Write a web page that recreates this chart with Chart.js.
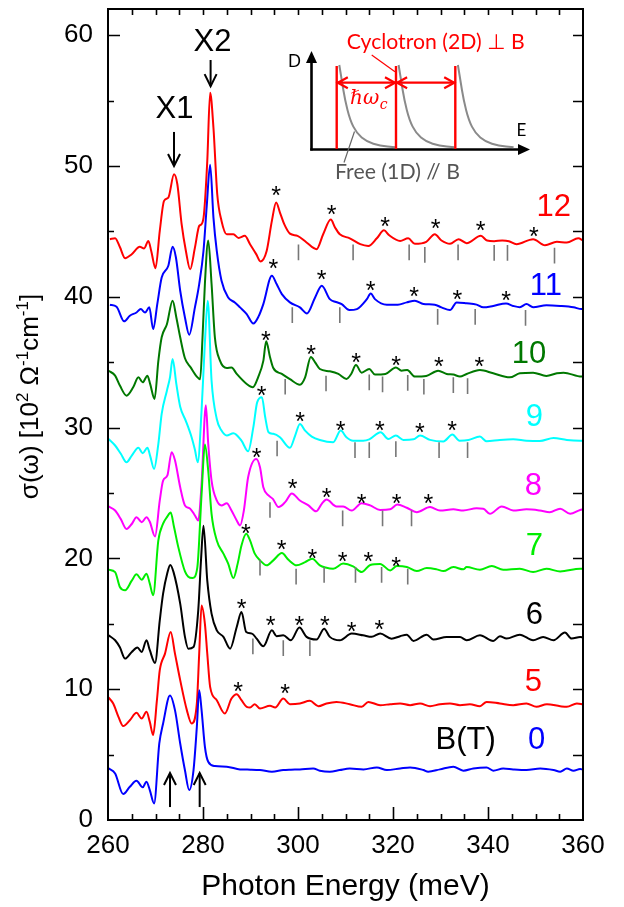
<!DOCTYPE html>
<html><head><meta charset="utf-8">
<script src="https://cdn.jsdelivr.net/npm/chart.js@4.4.1/dist/chart.umd.min.js"></script>
<style>html,body{margin:0;padding:0;background:#fff;}canvas{display:block;}</style>
</head><body>
<canvas id="c" width="624" height="907"></canvas>
<script>
// ---------- DATA ----------
const X_TICKS = [260, 280, 300, 320, 340, 360];
const Y_TICKS = [0, 10, 20, 30, 40, 50, 60];
const FIELDS = ['0', '5', '6', '7', '8', '9', '10', '11', '12'];

// spectra: [photon energy (meV), sigma (10^2 Ohm^-1 cm^-1)] (offset curves)
const B0 = [[260.1,3.95],[261.5,3.56],[263.2,1.98],[264.6,2.54],[266.0,3.0],[267.3,2.5],[268.1,2.93],[268.8,2.29],[269.7,1.27],[270.8,5.85],[271.6,7.38],[273.05,9.52],[274.1,8.4],[275.2,5.85],[276.2,3.8],[277.1,2.29],[278.0,3.8],[278.7,7.1],[279.2,9.92],[279.7,8.4],[280.4,5.6],[281.1,4.45],[282.5,4.12],[285.0,4.07],[287.8,3.87],[290.0,3.85],[292.0,3.82],[294.5,3.69],[296.9,3.82],[298.5,3.85],[300.4,3.87],[303.2,3.94],[304.6,3.77],[306.7,3.69],[308.8,3.82],[310.9,3.94],[313.8,3.87],[316.6,4.02],[318.7,3.82],[321.5,3.94],[323.6,4.02],[326.4,3.82],[327.4,3.69],[329.9,3.87],[332.7,4.07],[334.8,3.77],[336.9,3.94],[339.7,4.02],[341.1,3.77],[343.2,3.94],[345.3,3.87],[348.1,3.82],[351.0,3.94],[353.8,3.82],[355.2,3.69],[356.6,3.94],[358.0,3.77],[359.4,3.90],[360.0,3.85]];
const B5 = [[260.1,9.37],[261.1,8.9],[262.2,7.89],[263.2,7.18],[264.6,7.63],[266.0,8.19],[267.1,7.76],[268.1,8.27],[268.8,7.5],[269.5,6.49],[270.3,9.16],[270.9,11.45],[272.0,12.72],[273.2,14.37],[274.1,12.72],[275.2,10.69],[276.6,8.4],[277.6,7.38],[278.7,8.9],[279.2,12.72],[279.7,16.4],[280.4,15.0],[280.9,12.72],[281.5,10.18],[282.9,9.16],[284.6,8.14],[286.0,9.29],[287.1,9.62],[288.1,9.16],[289.2,8.65],[289.9,8.6],[290.9,8.85],[292.0,8.52],[294.1,8.73],[295.2,8.6],[296.9,9.29],[298.3,8.85],[300.4,8.91],[302.5,9.11],[304.3,8.70],[306.0,8.91],[308.1,9.03],[310.9,8.85],[313.4,8.65],[314.8,9.03],[317.3,8.78],[319.4,8.85],[321.5,8.91],[323.6,8.78],[325.7,8.91],[327.8,8.70],[329.9,8.85],[332.0,8.91],[334.1,8.78],[336.2,8.85],[338.3,8.70],[339.7,9.03],[342.5,8.91],[345.3,8.78],[348.1,8.91],[350.2,8.65],[352.4,8.85],[355.2,8.70],[356.6,8.65],[358.7,8.91],[360.0,8.85]];
const B6 = [[260.1,14.12],[261.5,13.74],[262.5,13.2],[263.6,12.34],[265.0,12.85],[266.2,13.18],[267.1,12.85],[268.1,13.74],[268.8,12.98],[269.9,12.01],[270.9,15.27],[271.6,17.3],[272.5,18.9],[273.1,19.5],[273.8,18.95],[275.2,16.54],[276.2,14.0],[276.9,13.1],[278.0,13.23],[279.0,16.03],[279.6,20.0],[280.1,22.5],[280.9,18.3],[281.8,15.78],[282.9,14.5],[284.3,14.0],[285.7,13.1],[287.1,14.76],[288.1,15.9],[289.1,14.37],[290.3,14.25],[291.3,13.86],[292.7,13.28],[294.5,14.5],[295.5,14.05],[296.9,14.12],[298.5,13.74],[300.3,14.71],[301.8,14.0],[303.9,13.8],[305.5,14.63],[306.7,14.0],[308.8,13.74],[311.3,14.25],[313.7,14.12],[315.5,14.0],[317.3,14.25],[319.7,13.86],[321.5,14.05],[322.9,14.17],[324.3,13.69],[327.1,14.17],[328.5,13.8],[331.3,13.99],[334.1,13.99],[335.5,13.74],[338.3,14.12],[341.1,13.69],[342.5,14.04],[343.9,13.87],[346.7,14.17],[349.5,13.74],[351.6,13.99],[353.8,13.74],[356.2,14.33],[357.6,13.87],[359.4,13.99],[360.0,13.95]];
const B7 = [[260.1,19.14],[261.5,18.95],[262.5,17.81],[263.6,17.56],[265.0,18.3],[266.0,18.78],[267.1,18.37],[268.1,18.83],[268.8,18.07],[269.5,17.18],[270.6,21.37],[271.6,22.65],[272.4,23.15],[273.2,23.5],[273.9,22.4],[274.8,20.86],[276.2,19.0],[276.9,18.6],[277.8,18.5],[278.8,19.3],[279.7,24.9],[280.4,28.7],[281.1,26.7],[281.8,23.4],[282.9,21.37],[284.3,20.36],[285.3,19.6],[286.4,18.5],[287.3,19.6],[288.1,20.99],[289.1,21.88],[289.9,21.37],[290.9,20.36],[292.0,19.85],[293.4,19.47],[294.8,19.85],[296.6,20.41],[298.0,19.89],[299.7,19.47],[301.5,19.72],[303.0,19.97],[304.6,19.47],[305.8,19.3],[307.4,19.2],[309.5,19.6],[311.6,19.39],[313.4,18.95],[315.2,19.5],[317.3,19.58],[319.4,19.08],[320.8,19.41],[322.9,19.34],[325.0,19.03],[327.1,19.26],[329.2,19.16],[330.6,19.03],[332.7,19.34],[334.8,19.16],[335.5,19.34],[338.3,19.13],[340.8,19.41],[343.2,19.13],[346.7,19.21],[349.5,18.96],[352.3,19.21],[355.2,19.0],[359.4,19.21],[360.0,19.2]];
const B8 = [[260.1,23.97],[261.5,23.66],[262.7,23.0],[263.9,22.25],[265.0,22.63],[266.0,23.15],[267.1,22.77],[268.1,23.15],[268.8,22.8],[269.9,21.68],[270.9,24.43],[271.6,25.95],[272.5,26.34],[273.4,28.12],[274.1,27.5],[275.2,25.44],[276.2,24.05],[277.3,23.8],[278.3,23.28],[279.0,22.9],[279.7,25.7],[280.6,31.7],[281.1,28.76],[281.8,25.95],[282.9,24.43],[283.9,24.05],[285.0,24.22],[286.0,23.66],[287.1,22.9],[287.8,22.52],[288.6,23.66],[289.5,26.2],[291.2,27.6],[292.0,26.97],[292.7,25.44],[293.8,24.81],[294.7,24.55],[295.9,23.92],[297.3,24.3],[298.7,24.97],[300.4,24.43],[302.2,24.05],[303.8,23.6],[305.0,24.17],[306.0,24.5],[308.1,23.97],[309.5,23.97],[311.3,23.66],[313.4,24.22],[315.2,24.05],[317.3,23.7],[319.4,23.75],[320.9,24.12],[322.9,23.87],[325.0,23.53],[327.8,23.92],[329.9,23.66],[332.7,23.75],[334.8,23.66],[337.6,23.83],[339.0,23.8],[340.4,23.41],[342.9,23.97],[345.3,23.66],[348.1,23.75],[350.9,23.66],[353.0,23.53],[355.2,23.8],[357.3,23.41],[359.4,23.7],[360.0,23.75]];
const B9 = [[260.1,29.13],[261.5,28.63],[262.7,28.0],[263.9,27.35],[265.0,27.86],[266.4,28.45],[267.3,28.04],[268.3,28.45],[268.9,27.8],[269.7,26.84],[270.6,28.76],[271.3,31.05],[272.4,32.82],[273.05,33.84],[273.6,35.24],[274.4,33.3],[275.2,31.6],[276.4,30.5],[277.6,29.26],[278.3,28.3],[278.9,27.35],[279.7,31.3],[280.4,36.5],[281.0,39.7],[281.8,33.6],[282.9,30.66],[283.9,29.77],[285.0,29.39],[286.4,29.57],[288.1,29.0],[289.5,28.19],[290.6,30.03],[291.4,31.93],[292.4,32.31],[293.1,30.79],[293.8,29.64],[294.8,29.52],[296.2,29.26],[298.3,28.45],[299.4,29.39],[300.4,30.28],[301.5,29.77],[302.9,29.31],[304.6,29.05],[307.4,28.88],[309.0,29.77],[310.2,29.26],[311.6,29.0],[313.7,29.0],[315.0,29.1],[317.4,29.64],[319.0,29.13],[320.6,29.39],[322.2,29.06],[324.3,29.1],[325.7,29.39],[327.8,29.06],[330.6,28.94],[332.5,29.47],[334.0,29.0],[335.9,29.05],[338.3,29.31],[339.7,28.95],[342.5,29.05],[345.3,29.1],[348.1,29.0],[350.9,28.97],[353.8,29.2],[356.6,29.05],[359.4,29.0],[360.0,29.0]];
const B10 = [[260.1,34.35],[261.5,33.97],[262.5,33.21],[263.9,32.44],[265.3,33.08],[266.4,33.84],[267.3,33.46],[268.3,33.97],[268.9,33.3],[269.8,32.19],[270.6,35.1],[271.3,36.9],[272.4,37.9],[273.6,39.7],[274.4,38.4],[275.2,36.9],[276.2,35.3],[277.4,34.6],[278.7,33.9],[279.4,33.7],[279.9,36.9],[280.4,41.0],[281.1,44.3],[281.8,41.0],[282.5,36.9],[283.6,35.1],[285.0,34.55],[286.0,34.6],[287.1,34.1],[289.2,33.33],[290.5,33.08],[291.6,33.84],[292.7,35.1],[293.3,36.6],[294.1,35.4],[294.8,34.55],[296.6,34.1],[298.3,33.7],[300.4,33.28],[301.5,33.84],[302.7,35.4],[303.6,34.99],[304.6,34.48],[306.7,34.3],[308.5,34.1],[310.2,33.72],[311.2,34.1],[312.2,34.78],[313.4,34.2],[315.0,34.48],[316.2,34.05],[318.4,34.1],[320.6,34.6],[321.8,34.35],[323.0,34.4],[324.6,33.9],[327.0,33.95],[329.5,34.35],[331.3,34.1],[332.7,34.05],[334.1,33.9],[335.5,34.1],[338.3,34.4],[341.1,34.15],[344.6,33.84],[346.7,34.15],[349.5,34.2],[352.3,33.95],[354.5,34.15],[355.9,34.2],[359.7,33.9],[360.0,33.9]];
const B11 = [[260.4,39.39],[261.8,39.24],[263.4,38.12],[264.6,38.55],[266.0,38.8],[266.9,39.06],[267.8,38.8],[268.7,39.19],[269.5,37.53],[270.4,39.5],[271.3,41.47],[272.7,42.37],[273.6,43.82],[274.3,43.0],[275.2,40.46],[276.2,38.42],[277.1,37.1],[278.3,39.19],[279.2,40.97],[280.1,43.5],[280.8,47.0],[281.5,50.1],[282.2,46.05],[282.9,43.5],[283.9,41.22],[285.3,39.95],[286.7,39.57],[287.8,39.19],[289.2,38.68],[290.6,37.96],[291.7,38.5],[292.7,39.44],[294.5,41.6],[295.5,40.97],[296.6,40.2],[298.3,39.57],[300.4,39.19],[301.9,38.73],[303.6,39.95],[305.0,40.84],[306.7,39.82],[308.0,39.6],[309.2,39.44],[310.8,38.98],[312.4,39.06],[314.5,39.82],[315.3,40.25],[316.2,39.82],[318.7,39.39],[321.0,39.39],[322.9,39.57],[324.6,39.7],[326.4,39.45],[328.8,39.39],[330.2,39.19],[332.0,38.98],[333.4,39.57],[335.5,39.5],[337.6,39.4],[339.0,39.19],[341.1,39.3],[343.8,39.49],[345.3,39.3],[346.7,39.2],[348.1,39.44],[349.5,39.2],[352.3,39.35],[355.2,39.3],[358.0,39.2],[359.7,39.06],[360.0,39.06]];
const B12 = [[260.4,44.4],[261.5,44.47],[262.5,43.8],[263.6,42.95],[265.0,43.25],[266.7,43.82],[267.6,43.7],[268.5,44.27],[269.1,43.5],[270.0,42.19],[270.9,45.04],[271.8,47.33],[272.7,47.58],[273.9,49.36],[274.6,48.6],[275.5,45.55],[276.4,43.5],[277.3,42.1],[278.3,43.76],[279.2,45.42],[279.7,45.55],[280.2,46.3],[280.9,50.38],[281.5,55.6],[282.2,52.92],[283.0,47.84],[283.9,45.8],[285.0,44.78],[286.4,44.78],[287.5,44.5],[288.8,44.66],[289.9,44.02],[291.2,43.26],[292.1,42.7],[293.4,43.5],[294.5,45.8],[295.4,47.2],[296.2,46.44],[297.1,45.55],[298.3,44.83],[299.9,44.66],[301.8,44.15],[303.9,43.64],[305.3,44.78],[306.9,45.9],[307.8,45.3],[308.8,44.78],[310.9,44.47],[313.1,44.02],[314.8,43.89],[316.6,44.47],[318.1,45.08],[319.2,44.7],[321.5,44.27],[323.2,44.47],[324.6,44.05],[327.0,44.2],[328.8,44.78],[330.2,44.3],[332.0,44.05],[333.8,44.4],[335.5,44.1],[338.5,44.66],[339.8,44.3],[341.3,44.25],[343.0,44.3],[344.4,44.25],[346.0,44.02],[349.5,44.4],[352.0,43.94],[354.5,44.2],[356.6,44.15],[359.0,44.47],[360.0,44.3]];
const SPECTRA = [B0, B5, B6, B7, B8, B9, B10, B11, B12];

// asterisk-marked cyclotron peaks [E, sigma]
const STAR_5 = [[287.4,10.31],[297.3,10.13]];
const STAR_6 = [[288.15,16.66],[294.25,15.32],[300.27,15.32],[305.68,15.32],[311.31,14.89],[317.12,15.06]];
const STAR_7 = [[289.05,22.39],[296.57,21.17],[303.01,20.44],[309.41,20.23],[314.8,20.23],[320.63,19.85]];
const STAR_8 = [[291.31,28.19],[298.88,25.82],[306.04,25.14],[313.41,24.68],[320.78,24.63],[327.43,24.68]];
const STAR_9 = [[292.36,32.88],[300.42,30.92],[308.99,30.23],[317.26,30.23],[325.68,30.08],[332.42,30.23]];
const STAR_10 = [[293.26,37.15],[302.74,36.08],[312.21,35.42],[320.63,35.17],[329.68,35.11],[338.17,35.11]];
const STAR_11 = [[294.8,42.62],[304.99,41.78],[315.31,40.97],[324.42,40.46],[333.54,40.25],[343.79,40.21]];
const STAR_12 = [[295.37,48.22],[307.09,46.77],[318.32,45.85],[328.99,45.67],[338.46,45.55],[349.68,45.09]];
const STARS = [STAR_5, STAR_6, STAR_7, STAR_8, STAR_9, STAR_10, STAR_11, STAR_12];

// gray markers (free 1D transitions): [E, top sigma]
const MARK_6 = [[290.5,13.87],[296.9,13.74],[302.5,13.74]];
const MARK_7 = [[292.0,19.9],[299.6,19.21],[305.5,19.34],[312.1,19.34],[317.6,19.34],[323.1,19.21]];
const MARK_8 = [[294.1,24.3],[309.4,23.66],[317.8,23.66],[323.9,23.66]];
const MARK_9 = [[295.6,29.0],[312.0,28.88],[315.0,28.88],[320.6,28.96],[329.7,28.88],[335.7,28.88]];
const MARK_10 = [[297.3,33.72],[305.9,33.97],[315.0,34.05],[317.8,33.9],[323.1,34.02],[326.5,33.72],[332.7,33.84],[335.7,33.77]];
const MARK_11 = [[298.8,39.2],[308.8,39.2],[329.4,39.06],[337.3,39.06],[347.9,38.98]];
const MARK_12 = [[300.1,44.0],[311.6,44.0],[323.4,44.0],[326.7,43.8],[333.7,44.0],[341.3,43.95],[344.1,43.95],[354.0,43.75]];
const MARKS = [MARK_6, MARK_7, MARK_8, MARK_9, MARK_10, MARK_11, MARK_12];
const MARK_LEN = 1.2;

// field labels anchor [E, sigma]
const LABEL_AT = [[348.4,6.1],[347.75,10.53],[347.96,15.65],[347.96,20.9],[347.75,25.5],[347.96,30.76],[345.0,35.57],[348.8,40.76],[350.2,46.8]];
const BT_AT = [328.97, 6.1];
// exciton arrows [E, from, to]
const X_ARROWS = [[273.9,52.6,50.0],[281.6,58.1,56.1]];
const X_TEXT = [['X1',274.0,54.35],['X2',282.0,59.47]];
const UP_ARROWS = [[273.05,0.99,3.59],[279.3,0.99,3.59]];

// ---------- STYLE ----------
const COLORS = ['#0000ff','#ff0000','#000000','#00ee00','#ff00ff','#00ffff','#007800','#0000ff','#ff0000'];
const FONT = '"Liberation Sans", Arial, Helvetica, sans-serif';
const IFONT = 'Lato, "Open Sans", "DejaVu Sans", sans-serif';

function head(ctx, tx, ty, dx, dy, len, half, filled) {
  const px = -dy, py = dx;
  ctx.beginPath();
  ctx.moveTo(tx - dx*len + px*half, ty - dy*len + py*half);
  ctx.lineTo(tx, ty);
  ctx.lineTo(tx - dx*len - px*half, ty - dy*len - py*half);
  if (filled) { ctx.closePath(); ctx.fill(); } else ctx.stroke();
}
function smooth(ctx, pts) {
  ctx.beginPath(); ctx.moveTo(pts[0][0], pts[0][1]);
  for (let i = 1; i < pts.length - 1; i++) {
    const mx = (pts[i][0] + pts[i+1][0]) / 2, my = (pts[i][1] + pts[i+1][1]) / 2;
    ctx.quadraticCurveTo(pts[i][0], pts[i][1], mx, my);
  }
  const l = pts[pts.length-1]; ctx.lineTo(l[0], l[1]); ctx.stroke();
}
function fitText(ctx, text, base, family, width) {
  ctx.font = base + 'px ' + family;
  const w = ctx.measureText(text).width;
  const s = base * width / w;
  ctx.font = s.toFixed(2) + 'px ' + family;
}

function drawInset(ctx, a) {
  const P = (px, py) => [a.left + px - 108, a.top + py - 9];
  ctx.save();
  ctx.strokeStyle = '#000'; ctx.fillStyle = '#000'; ctx.lineWidth = 2.6;
  let p = P(311.5,150.5), q = P(311.5,62);
  ctx.beginPath(); ctx.moveTo(p[0],p[1]); ctx.lineTo(q[0],q[1]); ctx.stroke();
  q = P(311.5,51); head(ctx, q[0], q[1], 0, -1, 12, 5.5, true);
  p = P(310.2,149.5); q = P(519,149.5);
  ctx.beginPath(); ctx.moveTo(p[0],p[1]); ctx.lineTo(q[0],q[1]); ctx.stroke();
  q = P(530,149.5); head(ctx, q[0], q[1], 1, 0, 12, 5.5, true);
  ctx.font = '17px ' + IFONT; ctx.textAlign = 'center'; ctx.textBaseline = 'middle';
  q = P(294.5,62); ctx.fillText('D', q[0], q[1]);
  q = P(521.5,131); ctx.fillText('E', q[0], q[1]);
  const shape = [[2.6,65],[5,80],[8.3,100],[13.3,120],[20,133.3],[30,141.7],[43.3,145.7],[58.3,147.3]];
  ctx.strokeStyle = '#8a8a8a'; ctx.lineWidth = 2;
  [336.7, 396, 455.3].forEach(x0 => smooth(ctx, shape.map(([dx, y]) => P(x0 + dx, y))));
  ctx.strokeStyle = '#ff0000'; ctx.fillStyle = '#ff0000'; ctx.lineWidth = 2.4;
  [336.7, 396, 455.3].forEach(x0 => {
    const t = P(x0, 66), b = P(x0, 149);
    ctx.beginPath(); ctx.moveTo(t[0], t[1]); ctx.lineTo(b[0], b[1]); ctx.stroke();
  });
  ctx.lineWidth = 2.2;
  [[337.8, 395], [397.1, 454.2]].forEach(([l, r]) => {
    const L = P(l, 82.7), R = P(r, 82.7);
    ctx.beginPath(); ctx.moveTo(L[0], L[1]); ctx.lineTo(R[0], R[1]); ctx.stroke();
    head(ctx, L[0], L[1], -1, 0, 10, 5.5, false);
    head(ctx, R[0], R[1], 1, 0, 10, 5.5, false);
  });
  ctx.textAlign = 'left'; ctx.textBaseline = 'alphabetic';
  ctx.font = 'italic 20px "DejaVu Serif", "Liberation Serif", serif';
  q = P(350, 104); ctx.fillText('ℏω', q[0], q[1]);
  const w = ctx.measureText('ℏω').width;
  ctx.font = 'italic 14px "DejaVu Serif", "Liberation Serif", serif';
  ctx.fillText('c', q[0] + w + 0.5, q[1] + 5);
  fitText(ctx, 'Cyclotron (2D) ⊥ B', 18, IFONT, 178);
  ctx.textBaseline = 'middle';
  q = P(346.7, 42.5); ctx.fillText('Cyclotron (2D) ⊥ B', q[0], q[1]);
  ctx.lineWidth = 1.2;
  p = P(371.7, 55); q = P(395, 71.7);
  ctx.beginPath(); ctx.moveTo(p[0], p[1]); ctx.lineTo(q[0], q[1]); ctx.stroke();
  ctx.fillStyle = '#555'; ctx.strokeStyle = '#666';
  fitText(ctx, 'Free (1D) // B', 18, IFONT, 125);
  q = P(335, 171.7); ctx.fillText('Free (1D) // B', q[0], q[1]);
  p = P(344, 162.5); q = P(354.5, 131.5);
  ctx.beginPath(); ctx.moveTo(p[0], p[1]); ctx.lineTo(q[0], q[1]); ctx.stroke();
  ctx.restore();
}

function drawYTitle(ctx, cx, cy) {
  const size = 26, sup = 17;
  const parts = [['σ(ω) [10', 0], ['2', 1], [' Ω', 0], ['-1', 1], ['cm', 0], ['-1', 1], [']', 0]];
  let w = 0;
  parts.forEach(([t, s]) => { ctx.font = (s ? sup : size) + 'px ' + FONT; w += ctx.measureText(t).width; });
  ctx.save(); ctx.translate(cx, cy); ctx.rotate(-Math.PI / 2);
  ctx.fillStyle = '#000'; ctx.textAlign = 'left'; ctx.textBaseline = 'alphabetic';
  let x = -w / 2; const base = size * 0.35;
  parts.forEach(([t, s]) => {
    ctx.font = (s ? sup : size) + 'px ' + FONT;
    ctx.fillText(t, x, s ? base - size * 0.4 : base);
    x += ctx.measureText(t).width;
  });
  ctx.restore();
}

const decor = {
  id: 'decor',
  afterDatasetsDraw(chart) {
    const { ctx, chartArea: a, scales: { x, y } } = chart;
    const X = v => x.getPixelForValue(v), Y = v => y.getPixelForValue(v);
    ctx.save();
    ctx.strokeStyle = '#000'; ctx.lineWidth = 2;
    ctx.strokeRect(a.left, a.top, a.right - a.left, a.bottom - a.top);
    ctx.lineWidth = 1.6; ctx.beginPath();
    for (let v = 265; v < 360; v += 5) {
      const px = Math.round(X(v)) + 0.5, L = (v % 20 === 0) ? 13 : 6;
      ctx.moveTo(px, a.bottom); ctx.lineTo(px, a.bottom - L);
      ctx.moveTo(px, a.top); ctx.lineTo(px, a.top + 6);
    }
    for (let v = 5; v <= 60; v += 5) {
      const py = Math.round(Y(v)) + 0.5, L = (v % 10 === 0) ? 12 : 6;
      ctx.moveTo(a.left, py); ctx.lineTo(a.left + L, py);
      ctx.moveTo(a.right, py); ctx.lineTo(a.right - 10, py);
    }
    ctx.stroke();
    ctx.strokeStyle = '#777'; ctx.lineWidth = 1.6; ctx.beginPath();
    MARKS.forEach(row => row.forEach(([e, t]) => {
      const px = X(e); ctx.moveTo(px, Y(t)); ctx.lineTo(px, Y(t - MARK_LEN));
    }));
    ctx.stroke();
    ctx.fillStyle = '#000'; ctx.font = '25px ' + FONT; ctx.textAlign = 'center'; ctx.textBaseline = 'alphabetic';
    STARS.forEach(row => row.forEach(([e, v]) => ctx.fillText('*', X(e), Y(v) + 25 * 0.58)));
    ctx.font = '31px ' + FONT; ctx.textAlign = 'left'; ctx.textBaseline = 'middle';
    LABEL_AT.forEach(([e, v], i) => { ctx.fillStyle = COLORS[i]; ctx.fillText(FIELDS[i], X(e), Y(v)); });
    ctx.fillStyle = '#000'; ctx.fillText('B(T)', X(BT_AT[0]), Y(BT_AT[1]));
    ctx.textAlign = 'center';
    X_TEXT.forEach(([t, e, v]) => ctx.fillText(t, X(e), Y(v)));
    ctx.strokeStyle = '#000'; ctx.lineWidth = 2;
    X_ARROWS.forEach(([e, f, t]) => {
      ctx.beginPath(); ctx.moveTo(X(e), Y(f)); ctx.lineTo(X(e), Y(t)); ctx.stroke();
      head(ctx, X(e), Y(t), 0, 1, 12, 6, false);
    });
    UP_ARROWS.forEach(([e, f, t]) => {
      ctx.beginPath(); ctx.moveTo(X(e), Y(f)); ctx.lineTo(X(e), Y(t)); ctx.stroke();
      head(ctx, X(e), Y(t), 0, -1, 12, 6, false);
    });
    drawInset(ctx, a);
    drawYTitle(ctx, 29, (a.top + a.bottom) / 2 - 18);
    ctx.restore();
  }
};

Chart.defaults.font.family = FONT;
new Chart(document.getElementById('c'), {
  type: 'line',
  data: {
    datasets: SPECTRA.map((s, i) => ({
      label: 'B = ' + FIELDS[i] + ' T',
      data: s.map(([e, v]) => ({ x: e, y: v })),
      borderColor: COLORS[i], borderWidth: 2, pointRadius: 0,
      cubicInterpolationMode: 'monotone', fill: false
    }))
  },
  options: {
    responsive: false, animation: false, devicePixelRatio: 1, events: [],
    layout: { padding: { top: 9, right: 41, left: 0, bottom: 0 } },
    plugins: { legend: { display: false }, tooltip: { enabled: false } },
    scales: {
      x: {
        type: 'linear', min: 260, max: 360,
        afterBuildTicks: s => { s.ticks = X_TICKS.map(v => ({ value: v })); },
        afterFit: s => { s.height = 87; s.paddingLeft = 0; s.paddingRight = 0; },
        grid: { display: false, drawTicks: false }, border: { display: false },
        ticks: { font: { size: 26 }, color: '#000', padding: 10, maxRotation: 0, autoSkip: false },
        title: { display: true, text: 'Photon Energy (meV)', font: { size: 30 }, color: '#000', padding: { top: 0, bottom: 2 } }
      },
      y: {
        type: 'linear', min: 0, max: 62,
        afterBuildTicks: s => { s.ticks = Y_TICKS.map(v => ({ value: v })); },
        afterFit: s => { s.width = 108; s.paddingTop = 0; s.paddingBottom = 0; },
        grid: { display: false, drawTicks: false }, border: { display: false },
        ticks: { font: { size: 26 }, color: '#000', padding: 15, autoSkip: false }
      }
    }
  },
  plugins: [decor]
});
</script>
</body></html>
